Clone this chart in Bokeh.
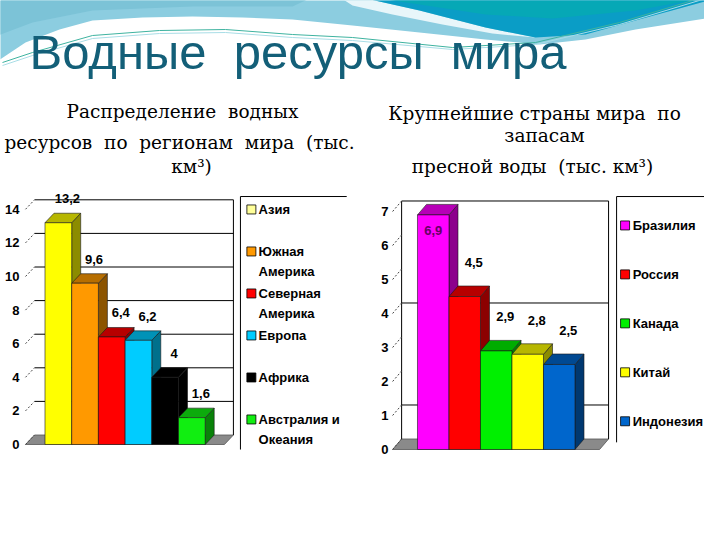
import numpy as np
from bokeh.plotting import figure
from bokeh.layouts import column, row
from bokeh.models import Range1d, FixedTicker
from bokeh.core.properties import value
from bokeh.embed import file_html
from bokeh.resources import INLINE

# ---------------- data ----------------
title_text = "Водные  ресурсы  мира"
left_subtitle = ["Распределение  водных", "ресурсов  по  регионам  мира  (тыс.", "км³)"]
right_subtitle = ["Крупнейшие страны мира  по", "запасам", "пресной воды  (тыс. км³)"]

regions = ["Азия", "Южная Америка", "Северная Америка", "Европа", "Африка", "Австралия и Океания"]
region_values = [13.2, 9.6, 6.4, 6.2, 4.0, 1.6]
region_ticks = [0, 2, 4, 6, 8, 10, 12, 14]
region_grid = [2, 4, 6, 8, 10, 12, 14]

countries = ["Бразилия", "Россия", "Канада", "Китай", "Индонезия"]
country_values = [6.9, 4.5, 2.9, 2.8, 2.5]
country_ticks = [0, 1, 2, 3, 4, 5, 6, 7]
country_grid = [1, 4, 7]

# ---------------- styles ----------------
region_colors = ["#FFFF00", "#FF9900", "#FF0000", "#00CCFF", "#000000", "#11EE11"]
region_swatch = ["#FFFF99", "#FF9900", "#FF0000", "#00CCFF", "#000000", "#11EE11"]
country_colors = ["#FF00FF", "#FF0000", "#00F000", "#FFFF00", "#0066CC"]

SANS = "Liberation Sans"
SERIF = "DejaVu Serif"


def keep_spaces(s):
    # SVG collapses runs of spaces; keep the double gaps of the original
    return s.replace("  ", "\u00a0 ")


def darker(c, f):
    c = c.lstrip("#")
    r, g, b = (int(c[i:i + 2], 16) for i in (0, 2, 4))
    return "#%02x%02x%02x" % (int(r * f), int(g * f), int(b * f))


def fmt(v):
    return ("%g" % v).replace(".", ",")


def wrap(s):
    if len(s) > 9 and " " in s:
        k = s.rfind(" ")
        return [s[:k], s[k + 1:]]
    return [s]


def make_chart(cats, vals, colors, swatches, ticks, grid, g):
    n = len(vals)
    vals = np.asarray(vals, dtype=float)
    p = figure(width=352, height=342, x_range=Range1d(*g["xr"]), y_range=Range1d(*g["yr"]),
               toolbar_location=None, output_backend="svg", min_border=0,
               min_border_left=g["border_left"], x_axis_location=None, y_axis_location="left")
    p.grid.visible = False
    p.outline_line_color = None
    p.background_fill_color = "white"
    p.border_fill_color = "white"
    ax = p.yaxis[0]
    ax.ticker = FixedTicker(ticks=ticks)
    ax.axis_line_color = None
    ax.major_tick_line_color = None
    ax.minor_tick_line_color = None
    ax.major_tick_out = 0
    ax.major_tick_in = 0
    ax.minor_tick_out = 0
    ax.major_label_text_font = SANS
    ax.major_label_text_font_style = "bold"
    ax.major_label_text_font_size = "13px"
    ax.major_label_text_color = "black"
    ax.major_label_standoff = g["standoff"]

    dx, dy = g["dx"], g["dy"]
    fx0, fx1 = g["floor"]
    top = ticks[-1]
    # floor
    p.patch([fx0, fx1, fx1 + dx, fx0 + dx], [0, 0, dy, dy],
            fill_color="#8a8a8a", line_color="#555555", line_width=0.8)
    # back wall grid lines
    gv = np.asarray(grid, dtype=float)
    p.segment(x0=[fx0 + dx] * len(gv), y0=gv + dy, x1=[fx1 + dx] * len(gv), y1=gv + dy,
              line_color="black", line_width=1)
    # right wall edge
    p.segment(x0=[fx1 + dx], y0=[dy], x1=[fx1 + dx], y1=[top + dy], line_color="black", line_width=1)
    if g.get("left_wall"):
        p.segment(x0=[fx0 + dx], y0=[dy], x1=[fx0 + dx], y1=[top + dy], line_color="black", line_width=1)
    # diagonal ticks
    tv = np.asarray(ticks, dtype=float)
    p.segment(x0=[fx0] * len(tv), y0=tv, x1=[fx0 + dx] * len(tv), y1=tv + dy,
              line_color="#444444", line_width=1, line_dash="2 2")

    # 3D faces (side + top), left to right
    xs, ys, fc = [], [], []
    for i, v in enumerate(vals):
        xs.append([i + 1, i + 1 + dx, i + 1 + dx, i + 1])
        ys.append([0, dy, v + dy, v])
        fc.append(darker(colors[i], 0.55))
        xs.append([i, i + 1, i + 1 + dx, i + dx])
        ys.append([v, v, v + dy, v + dy])
        fc.append(darker(colors[i], 0.72))
    p.patches(xs, ys, fill_color=fc, line_color="#1a1a1a", line_width=0.6)
    # front faces
    idx = np.arange(n)
    p.vbar(x=idx + 0.5, top=vals, width=1, bottom=0, fill_color=colors,
           line_color="#1a1a1a", line_width=0.6)

    # data labels
    raw_y = vals + g["lab_off"]
    cap = g.get("lab_cap", 1e9)
    capped = raw_y > cap
    ly = np.minimum(raw_y, cap)
    lx = idx + 0.5 + np.where(capped, 0.0, dx)
    lc = [darker(colors[i], 0.4) if capped[i] else "black" for i in range(n)]
    p.text(x=lx, y=ly, text=[fmt(v) for v in vals], text_font=value(SANS), text_font_style="bold",
           text_font_size="13px", text_color=lc, text_align="center", text_baseline="middle")

    # legend (top & left border lines only)
    L = g["leg"]
    p.segment(x0=[L["x"], L["x"]], y0=[L["top"], L["top"]], x1=[L["right"], L["x"]],
              y1=[L["top"], L["bottom"]], line_color="black", line_width=1)
    sy = L["slot0"] - L["step"] * idx
    p.scatter(x=[L["sw"]] * n, y=sy, marker="square", size=9, fill_color=swatches,
              line_color="black", line_width=0.8)
    tx, ty, tt = [], [], []
    for i, c in enumerate(cats):
        for k, line in enumerate(wrap(c)):
            tx.append(L["tx"])
            ty.append(sy[i] - k * L["line2"])
            tt.append(line)
    p.text(x=tx, y=ty, text=tt, text_font=value(SANS), text_font_style="bold",
           text_font_size="13px", text_color="black", text_align="left", text_baseline="middle")
    return p


# ---------------- header ----------------
hdr = figure(width=704, height=182, x_range=Range1d(8, 712), y_range=Range1d(190, 8),
             toolbar_location=None, output_backend="svg", min_border=0,
             x_axis_location=None, y_axis_location=None)
hdr.grid.visible = False
hdr.outline_line_color = None
hdr.background_fill_color = "white"
hdr.border_fill_color = "white"

# decorative waves
hdr.patch([0, 720, 720, 643, 593, 547, 493, 427, 360, 300, 250, 200, 150, 100, 67, 33, 0],
          [0, 0, 25, 37, 47, 52, 47, 40, 33, 27, 25, 24, 25, 28, 37, 50, 72],
          fill_color="#8ccde0", line_color=None)
hdr.patch([0, 330, 300, 200, 100, 40, 0],
          [0, 0, 14, 14, 18, 30, 45],
          fill_color="#7cc3d7", line_color=None)
hdr.patch([318, 360, 427, 493, 543, 500, 450, 400, 360, 340],
          [0, 3, 18, 35, 45, 41, 32, 22, 13, 0],
          fill_color="#e8f6fa", line_color=None)
hdr.patch([325, 360, 427, 493, 543, 593, 643, 720, 720],
          [0, 3, 18, 35, 45, 42, 28, 7, 0],
          fill_color="#0a9dc6", line_color=None)
hdr.patch([325, 360, 427, 493, 560, 643, 720, 720],
          [0, 2, 12, 22, 26, 18, 4, 0],
          fill_color="#06a8b6", line_color=None)
hdr.line([10, 40, 100, 167, 233, 300, 360, 460, 543, 627, 720],
         [70, 60, 43, 38, 37, 42, 45, 55, 50, 30, 2], line_color="#3fb3a0", line_width=1)
hdr.line([10, 40, 100, 167, 233, 300, 360, 460, 543, 627, 720],
         [73, 63, 46, 41, 40, 45, 48, 57, 52, 32, 4], line_color="#a8dde6", line_width=1)

TITLE_FS = 49
SUB_FS = 18.5
hdr.text(x=[37], y=[77 - 0.36 * TITLE_FS], text=[keep_spaces(title_text)], text_font=value(SANS),
         text_font_size="%gpx" % TITLE_FS, text_color="#135f78", text_align="left",
         text_baseline="middle")
hdr.text(x=[190, 187, 199], y=[b - 0.36 * SUB_FS for b in (126, 157, 181)],
         text=[keep_spaces(s) for s in left_subtitle], text_font=value(SERIF),
         text_font_size="%gpx" % SUB_FS, text_color="black", text_align="center",
         text_baseline="middle")
hdr.text(x=[542, 552, 540], y=[b - 0.36 * SUB_FS for b in (128, 150, 181)],
         text=[keep_spaces(s) for s in right_subtitle], text_font=value(SERIF),
         text_font_size="%gpx" % SUB_FS, text_color="black", text_align="center",
         text_baseline="middle")

# ---------------- charts ----------------
left_geom = dict(
    xr=(-0.805, 11.517), yr=(-4.762, 15.595), border_left=23, standoff=4,
    dx=0.337, dy=0.565, floor=(-0.73, 6.72), lab_off=1.43,
    leg=dict(x=7.32, top=14.76, right=11.3, bottom=-0.3, sw=7.73, tx=8.0,
             slot0=13.99, step=2.5, line2=1.19),
)
right_geom = dict(
    xr=(-0.825, 9.111), yr=(-2.206, 7.853), border_left=39, standoff=3,
    dx=0.286, dy=0.309, floor=(-0.79, 5.78), lab_off=1.0, lab_cap=6.45, left_wall=True,
    leg=dict(x=6.32, top=7.44, right=9.2, bottom=0.21, sw=6.59, tx=6.83,
             slot0=6.59, step=1.44, line2=0.59),
)

left = make_chart(regions, region_values, region_colors, region_swatch, region_ticks, region_grid, left_geom)
right = make_chart(countries, country_values, country_colors, country_colors, country_ticks, country_grid, right_geom)

layout = column(hdr, row(left, right, spacing=0), spacing=0)
open("out.html", "w").write(file_html(layout, INLINE))
